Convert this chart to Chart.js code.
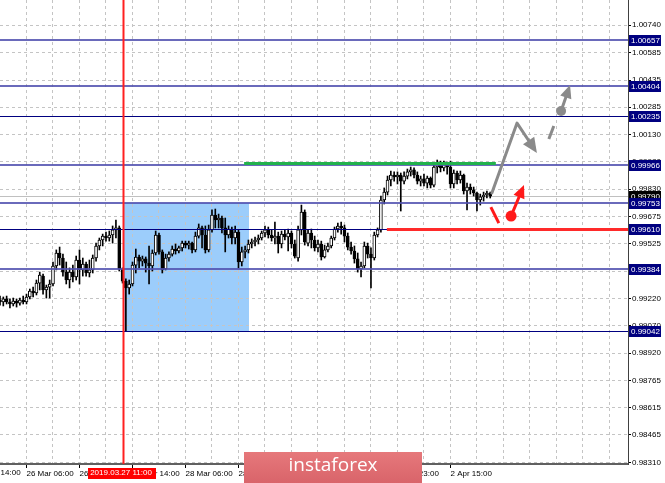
<!DOCTYPE html>
<html>
<head>
<meta charset="utf-8">
<script src="https://cdn.jsdelivr.net/npm/chart.js"></script>
<style>
  html, body { margin: 0; padding: 0; background: #fff; }
</style>
</head>
<body>
<canvas id="myChart" width="665" height="483"></canvas>
<script>
'use strict';

//hourly candles
const opens = [0.99214, 0.99203, 0.99220, 0.99203, 0.99192, 0.99208, 0.99197, 0.99214, 0.99203, 0.99231,
  0.99264, 0.99253, 0.99308, 0.99347, 0.99270, 0.99286, 0.99303, 0.99403, 0.99475, 0.99447,
  0.99369, 0.99325, 0.99369, 0.99342, 0.99436, 0.99381, 0.99414, 0.99364, 0.99381, 0.99447,
  0.99514, 0.99547, 0.99569, 0.99558, 0.99575, 0.99603, 0.99614, 0.99386, 0.99319, 0.99281,
  0.99303, 0.99408, 0.99453, 0.99430, 0.99442, 0.99419, 0.99403, 0.99475, 0.99575, 0.99481,
  0.99386, 0.99447, 0.99469, 0.99497, 0.99486, 0.99503, 0.99530, 0.99519, 0.99530, 0.99492,
  0.99569, 0.99614, 0.99575, 0.99492, 0.99603, 0.99686, 0.99658, 0.99669, 0.99614, 0.99575,
  0.99608, 0.99558, 0.99591, 0.99425, 0.99481, 0.99492, 0.99525, 0.99536, 0.99547, 0.99558,
  0.99586, 0.99603, 0.99575, 0.99558, 0.99569, 0.99525, 0.99580, 0.99564, 0.99586, 0.99525,
  0.99447, 0.99603, 0.99702, 0.99530, 0.99586, 0.99547, 0.99503, 0.99525, 0.99453, 0.99492,
  0.99514, 0.99558, 0.99608, 0.99625, 0.99614, 0.99569, 0.99508, 0.99486, 0.99442, 0.99386,
  0.99403, 0.99514, 0.99469, 0.99447, 0.99575, 0.99603, 0.99769, 0.99813, 0.99880, 0.99908,
  0.99897, 0.99908, 0.99874, 0.99902, 0.99925, 0.99936, 0.99908, 0.99874, 0.99886, 0.99863,
  0.99891, 0.99852, 0.99952, 0.99974, 0.99947, 0.99969, 0.99952, 0.99858, 0.99919, 0.99880,
  0.99908, 0.99819, 0.99841, 0.99825, 0.99808, 0.99769, 0.99786, 0.99797, 0.99808];
const highs = [0.99236, 0.99231, 0.99236, 0.99220, 0.99225, 0.99220, 0.99225, 0.99236, 0.99247, 0.99275,
  0.99286, 0.99325, 0.99369, 0.99358, 0.99297, 0.99325, 0.99425, 0.99492, 0.99508, 0.99469,
  0.99425, 0.99392, 0.99408, 0.99458, 0.99492, 0.99447, 0.99425, 0.99436, 0.99464, 0.99530,
  0.99558, 0.99580, 0.99591, 0.99597, 0.99625, 0.99658, 0.99625, 0.99392, 0.99331, 0.99325,
  0.99425, 0.99497, 0.99464, 0.99458, 0.99453, 0.99514, 0.99492, 0.99597, 0.99586, 0.99492,
  0.99469, 0.99481, 0.99514, 0.99525, 0.99514, 0.99541, 0.99541, 0.99541, 0.99536, 0.99591,
  0.99636, 0.99625, 0.99625, 0.99630, 0.99714, 0.99719, 0.99691, 0.99680, 0.99669, 0.99625,
  0.99619, 0.99625, 0.99603, 0.99508, 0.99514, 0.99547, 0.99553, 0.99564, 0.99575, 0.99597,
  0.99625, 0.99619, 0.99603, 0.99647, 0.99591, 0.99597, 0.99603, 0.99608, 0.99597, 0.99547,
  0.99625, 0.99741, 0.99714, 0.99603, 0.99608, 0.99569, 0.99547, 0.99541, 0.99519, 0.99530,
  0.99569, 0.99619, 0.99641, 0.99647, 0.99630, 0.99586, 0.99536, 0.99514, 0.99475, 0.99425,
  0.99536, 0.99530, 0.99503, 0.99591, 0.99614, 0.99791, 0.99836, 0.99902, 0.99930, 0.99925,
  0.99925, 0.99919, 0.99925, 0.99941, 0.99952, 0.99947, 0.99925, 0.99902, 0.99913, 0.99902,
  0.99897, 0.99969, 0.99991, 0.99985, 0.99985, 0.99980, 0.99985, 0.99936, 0.99930, 0.99930,
  0.99913, 0.99863, 0.99858, 0.99841, 0.99813, 0.99802, 0.99813, 0.99819, 0.99813];
const lows = [0.99186, 0.99181, 0.99192, 0.99170, 0.99181, 0.99175, 0.99186, 0.99192, 0.99192, 0.99220,
  0.99231, 0.99242, 0.99270, 0.99247, 0.99225, 0.99225, 0.99292, 0.99381, 0.99408, 0.99347,
  0.99303, 0.99281, 0.99314, 0.99325, 0.99303, 0.99347, 0.99347, 0.99342, 0.99364, 0.99430,
  0.99492, 0.99514, 0.99541, 0.99541, 0.99530, 0.99558, 0.99375, 0.99308, 0.99042, 0.99247,
  0.99292, 0.99364, 0.99392, 0.99403, 0.99369, 0.99303, 0.99375, 0.99464, 0.99469, 0.99364,
  0.99381, 0.99430, 0.99458, 0.99469, 0.99475, 0.99486, 0.99503, 0.99497, 0.99475, 0.99481,
  0.99558, 0.99503, 0.99475, 0.99481, 0.99591, 0.99614, 0.99614, 0.99586, 0.99481, 0.99558,
  0.99525, 0.99525, 0.99392, 0.99403, 0.99447, 0.99475, 0.99503, 0.99514, 0.99525, 0.99547,
  0.99564, 0.99558, 0.99541, 0.99525, 0.99475, 0.99503, 0.99547, 0.99486, 0.99503, 0.99447,
  0.99430, 0.99575, 0.99519, 0.99514, 0.99503, 0.99486, 0.99481, 0.99436, 0.99447, 0.99481,
  0.99503, 0.99547, 0.99591, 0.99580, 0.99536, 0.99492, 0.99469, 0.99419, 0.99369, 0.99342,
  0.99392, 0.99447, 0.99281, 0.99436, 0.99564, 0.99591, 0.99747, 0.99797, 0.99847, 0.99874,
  0.99858, 0.99708, 0.99858, 0.99886, 0.99902, 0.99891, 0.99858, 0.99847, 0.99847, 0.99836,
  0.99836, 0.99841, 0.99919, 0.99925, 0.99930, 0.99913, 0.99836, 0.99836, 0.99858, 0.99863,
  0.99802, 0.99714, 0.99802, 0.99791, 0.99708, 0.99741, 0.99763, 0.99780, 0.99780];
const closes = [0.99203, 0.99220, 0.99203, 0.99192, 0.99208, 0.99197, 0.99214, 0.99203, 0.99231, 0.99264,
  0.99253, 0.99308, 0.99353, 0.99270, 0.99286, 0.99303, 0.99403, 0.99475, 0.99447, 0.99369,
  0.99325, 0.99369, 0.99342, 0.99436, 0.99381, 0.99414, 0.99364, 0.99381, 0.99447, 0.99514,
  0.99547, 0.99569, 0.99558, 0.99575, 0.99603, 0.99614, 0.99386, 0.99319, 0.99281, 0.99303,
  0.99408, 0.99453, 0.99430, 0.99442, 0.99419, 0.99403, 0.99475, 0.99575, 0.99481, 0.99381,
  0.99447, 0.99469, 0.99497, 0.99486, 0.99503, 0.99530, 0.99519, 0.99530, 0.99492, 0.99569,
  0.99614, 0.99575, 0.99492, 0.99603, 0.99686, 0.99658, 0.99669, 0.99614, 0.99575, 0.99608,
  0.99558, 0.99591, 0.99425, 0.99481, 0.99492, 0.99525, 0.99536, 0.99547, 0.99558, 0.99586,
  0.99603, 0.99575, 0.99558, 0.99569, 0.99525, 0.99580, 0.99564, 0.99586, 0.99525, 0.99458,
  0.99603, 0.99702, 0.99536, 0.99586, 0.99547, 0.99503, 0.99525, 0.99453, 0.99492, 0.99514,
  0.99558, 0.99608, 0.99625, 0.99614, 0.99569, 0.99508, 0.99486, 0.99442, 0.99386, 0.99403,
  0.99514, 0.99469, 0.99447, 0.99575, 0.99603, 0.99769, 0.99813, 0.99880, 0.99908, 0.99897,
  0.99908, 0.99874, 0.99902, 0.99925, 0.99936, 0.99908, 0.99874, 0.99886, 0.99863, 0.99891,
  0.99852, 0.99952, 0.99974, 0.99947, 0.99969, 0.99952, 0.99858, 0.99919, 0.99880, 0.99908,
  0.99819, 0.99841, 0.99825, 0.99808, 0.99769, 0.99786, 0.99797, 0.99808, 0.99791];

//time axis: bar numbers that carry a label, and their text
const labelBars = [8, 24, 40, 56, 72, 88, 104, 120, 136];
const labelTexts = ['26 Mar 06:00', '26 Mar 22:00', '27 Mar 14:00', '28 Mar 06:00', '28 Mar 22:00',
  '29 Mar 14:00', '1 Apr 07:00', '1 Apr 23:00', '2 Apr 15:00'];
const firstLabelBar = -8;
const firstLabelText = '25 Mar 14:00';
const gridBars = [8, 16, 24, 32, 40, 48, 56, 64, 72, 80, 88, 96, 104, 112, 120, 128, 136, 144, 152, 160, 168, 176, 184];
const totalSlots = 189.6;

//price axis
const priceTicks = [1.00740, 1.00585, 1.00435, 1.00285, 1.00130, 0.99980, 0.99830, 0.99675, 0.99525,
  0.99370, 0.99220, 0.99070, 0.98920, 0.98765, 0.98615, 0.98465, 0.98310];
const priceMin = 0.98304;
const priceMax = 1.00879;

//horizontal levels
const levelPrices = [1.00657, 1.00404, 1.00235, 0.99966, 0.99753, 0.99610, 0.99384, 0.99042];
const strongLevels = [1.00235, 0.99610, 0.99042];
const currentPrice = 0.99790;

//marked zone and time line
const markBar = 37;
const markText = '2019.03.27 11:00';
const zoneBars = [37, 75.2];
const zonePrices = [0.99753, 0.99042];

//green resistance and red support segments
const greenBars = [73.7, 149.7];
const greenPrice = 0.99976;
const redStartBar = 116.8;
const redPrice = 0.99610;

//scenario arrows (bar, price)
const greyPath = [[148.5, 0.99808], [156.1, 1.00196], [162.1, 1.00030]];
const greyDash = [[165.7, 1.00108], [167.2, 1.00180]];
const greyUp = [[169.4, 1.00263], [172.1, 1.00407]];
const redDash = [[148.2, 0.99730], [150.6, 0.99641]];
const redUp = [[154.3, 0.99680], [158.2, 0.99852]];

const axisFont = '8px "Liberation Sans", Arial, sans-serif';

const bars = opens.map((o, i) => i);
const bodies = bars.map(i => ({ x: i, y: [Math.min(opens[i], closes[i]), Math.max(opens[i], closes[i])] }));
const wicks = bars.map(i => ({ x: i, y: [lows[i], highs[i]] }));
const bodyColors = bars.map(i => (closes[i] >= opens[i] ? '#ffffff' : '#000000'));

//arrow with filled head
function drawArrow(ctx, pts, color, width, head) {
  ctx.strokeStyle = color;
  ctx.fillStyle = color;
  ctx.lineWidth = width;
  ctx.lineCap = 'round';
  ctx.lineJoin = 'round';
  const n = pts.length;
  const ang = Math.atan2(pts[n - 1][1] - pts[n - 2][1], pts[n - 1][0] - pts[n - 2][0]);
  const endX = pts[n - 1][0] - Math.cos(ang) * head * 0.7;
  const endY = pts[n - 1][1] - Math.sin(ang) * head * 0.7;
  ctx.beginPath();
  ctx.moveTo(pts[0][0], pts[0][1]);
  for (let i = 1; i < n - 1; i++) {
    ctx.lineTo(pts[i][0], pts[i][1]);
  }
  ctx.lineTo(endX, endY);
  ctx.stroke();
  const tx = pts[n - 1][0], ty = pts[n - 1][1];
  ctx.beginPath();
  ctx.moveTo(tx, ty);
  ctx.lineTo(tx - head * Math.cos(ang) + head * 0.45 * Math.sin(ang), ty - head * Math.sin(ang) - head * 0.45 * Math.cos(ang));
  ctx.lineTo(tx - head * Math.cos(ang) - head * 0.45 * Math.sin(ang), ty - head * Math.sin(ang) + head * 0.45 * Math.cos(ang));
  ctx.closePath();
  ctx.fill();
}

function drawSegment(ctx, pts, color, width) {
  ctx.strokeStyle = color;
  ctx.lineWidth = width;
  ctx.lineCap = 'butt';
  ctx.beginPath();
  ctx.moveTo(pts[0][0], pts[0][1]);
  ctx.lineTo(pts[1][0], pts[1][1]);
  ctx.stroke();
}

//price box on the right axis
function axisBox(ctx, area, yPix, text, bg) {
  const yy = Math.round(yPix);
  ctx.fillStyle = bg;
  ctx.fillRect(area.right + 1, yy - 5, 32, 11);
  ctx.fillStyle = '#ffffff';
  ctx.font = axisFont;
  ctx.textAlign = 'left';
  ctx.textBaseline = 'middle';
  ctx.fillText(text, area.right + 3, yy + 0.5);
}

const overlay = {
  id: 'overlay',
  beforeDraw(chart) {
    const { ctx, scales: { x, y } } = chart;
    ctx.save();
    ctx.fillStyle = '#ffffff';
    ctx.fillRect(0, 0, chart.width, chart.height);
    const left = Math.round(x.getPixelForValue(zoneBars[0]));
    const right = Math.round(x.getPixelForValue(zoneBars[1]));
    const top = Math.round(y.getPixelForValue(zonePrices[0]));
    const bottom = Math.round(y.getPixelForValue(zonePrices[1]));
    ctx.fillStyle = '#9ccdfb';
    ctx.fillRect(left, top, right - left, bottom - top);
    ctx.restore();
  },
  beforeDatasetsDraw(chart) {
    const { ctx, chartArea: area, scales: { y } } = chart;
    ctx.save();
    ctx.fillStyle = '#c0c0c0';
    ctx.fillRect(area.left, Math.round(y.getPixelForValue(currentPrice)), area.right - area.left, 1);
    ctx.restore();
  },
  afterDatasetsDraw(chart) {
    const { ctx, chartArea: area, scales: { x, y } } = chart;
    const px = b => x.getPixelForValue(b);
    const py = p => y.getPixelForValue(p);
    const toPix = pts => pts.map(p => [px(p[0]), py(p[1])]);
    ctx.save();

    //level lines
    for (let i = 0; i < levelPrices.length; i++) {
      const strong = strongLevels.includes(levelPrices[i]);
      const ly = Math.round(py(levelPrices[i]));
      ctx.fillStyle = strong ? '#000080' : 'rgba(80, 80, 175, 0.85)';
      if (strong) {
        ctx.fillRect(area.left, ly, area.right - area.left, 1);
      } else {
        ctx.fillRect(area.left, ly - 1, area.right - area.left, 2);
      }
    }

    //green and red segments
    ctx.fillStyle = '#22b24c';
    ctx.fillRect(px(greenBars[0]), Math.round(py(greenPrice)) - 1, px(greenBars[1]) - px(greenBars[0]), 3);
    ctx.fillStyle = '#ff2a2a';
    ctx.fillRect(px(redStartBar), Math.round(py(redPrice)) - 1, area.right - px(redStartBar), 3);

    //time line
    const mx = Math.round(px(markBar));
    ctx.fillStyle = '#ff2020';
    ctx.fillRect(mx - 0.5, area.top, 2, area.bottom - area.top);

    //scenario arrows
    drawArrow(ctx, toPix(greyPath), '#8a8a8a', 3, 15);
    drawSegment(ctx, toPix(greyDash), '#8a8a8a', 3);
    const gu = toPix(greyUp);
    drawArrow(ctx, gu, '#8a8a8a', 3, 13);
    ctx.beginPath();
    ctx.arc(gu[0][0], gu[0][1], 5, 0, Math.PI * 2);
    ctx.fill();
    drawSegment(ctx, toPix(redDash), '#ff1a1a', 3);
    const ru = toPix(redUp);
    drawArrow(ctx, ru, '#ff1a1a', 3, 13);
    ctx.beginPath();
    ctx.arc(ru[0][0], ru[0][1], 5.5, 0, Math.PI * 2);
    ctx.fill();

    //price boxes
    axisBox(ctx, area, py(currentPrice), currentPrice.toFixed(5), '#000000');
    for (let i = 0; i < levelPrices.length; i++) {
      axisBox(ctx, area, py(levelPrices[i]), levelPrices[i].toFixed(5), '#000080');
    }

    //leftmost partial time label
    ctx.font = axisFont;
    ctx.fillStyle = '#000000';
    ctx.textAlign = 'left';
    ctx.textBaseline = 'top';
    ctx.fillText(firstLabelText, px(firstLabelBar), area.bottom + 5);

    //red date label
    ctx.fillStyle = '#ff0000';
    ctx.fillRect(mx - 35, area.bottom + 4, 68, 11);
    ctx.fillStyle = '#ffffff';
    ctx.textAlign = 'center';
    ctx.fillText(markText, mx - 2, area.bottom + 5);

    //watermark banner
    const grad = ctx.createLinearGradient(0, 452, 0, 483);
    grad.addColorStop(0, '#e6787b');
    grad.addColorStop(1, '#d9646a');
    ctx.fillStyle = grad;
    ctx.fillRect(244, 452, 178, 31);
    ctx.fillStyle = '#ffffff';
    ctx.font = '19px "Open Sans", Lato, sans-serif';
    ctx.textAlign = 'center';
    ctx.textBaseline = 'middle';
    ctx.fillText('instaforex', 333, 466);
    ctx.restore();
  }
};

const config = {
  type: 'bar',
  data: {
    datasets: [{
      label: 'body',
      data: bodies,
      backgroundColor: bodyColors,
      borderColor: '#000000',
      borderWidth: 1,
      borderSkipped: false,
      barThickness: 3,
      grouped: false
    },
    {
      label: 'wick',
      data: wicks,
      backgroundColor: '#000000',
      borderWidth: 0,
      barThickness: 1,
      grouped: false
    }]
  },
  options: {
    responsive: false,
    animation: false,
    devicePixelRatio: 1,
    layout: { padding: 0 },
    plugins: {
      legend: { display: false },
      tooltip: { enabled: false }
    },
    scales: {
      x: {
        type: 'linear',
        min: 0,
        max: totalSlots,
        offset: false,
        afterBuildTicks: scale => {
          scale.ticks = gridBars.map(v => ({ value: v }));
        },
        afterFit: scale => {
          scale.height = 19;
          scale.paddingLeft = 0;
          scale.paddingRight = 0;
        },
        grid: {
          offset: false,
          color: '#c4c4c4',
          tickLength: 4,
          tickColor: c => (labelBars.includes(c.tick && c.tick.value) ? '#000000' : 'rgba(0,0,0,0)')
        },
        border: { display: true, color: '#606060', width: 2, dash: [3, 3] },
        ticks: {
          autoSkip: false,
          maxRotation: 0,
          minRotation: 0,
          align: 'start',
          padding: 1,
          color: '#000000',
          font: { family: '"Liberation Sans", Arial, sans-serif', size: 8 },
          callback: value => {
            const k = labelBars.indexOf(value);
            return k >= 0 ? labelTexts[k] : '';
          }
        }
      },
      y: {
        position: 'right',
        min: priceMin,
        max: priceMax,
        afterBuildTicks: scale => {
          scale.ticks = priceTicks.map(v => ({ value: v }));
        },
        afterFit: scale => {
          scale.width = 37;
          scale.paddingTop = 0;
          scale.paddingBottom = 0;
        },
        grid: {
          color: '#c4c4c4',
          tickLength: 3,
          tickColor: '#000000'
        },
        border: { display: true, color: '#404040', width: 1, dash: [3, 3] },
        ticks: {
          padding: 1,
          color: '#000000',
          font: { family: '"Liberation Sans", Arial, sans-serif', size: 8 },
          callback: value => Number(value).toFixed(5)
        }
      }
    }
  },
  plugins: [overlay]
};

const myChart = new Chart(document.getElementById('myChart'), config);
</script>
</body>
</html>
